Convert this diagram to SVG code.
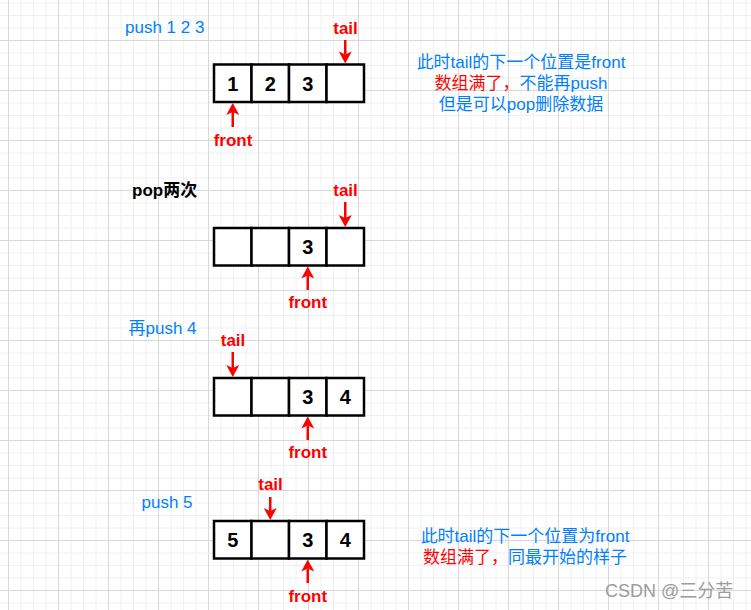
<svg xmlns="http://www.w3.org/2000/svg" width="751" height="610" viewBox="0 0 751 610">
<style>
.cell{fill:#ffffff;stroke:#000000;stroke-width:2.5}
.num{font-family:"Liberation Sans",Arial,sans-serif;font-size:20px;font-weight:bold;fill:#000000;text-anchor:middle}
.ptr{font-family:"Liberation Sans",Arial,sans-serif;font-size:17px;font-weight:bold;fill:#ff0000;text-anchor:middle}
.lbl{font-family:"Liberation Sans","Noto Sans CJK SC",sans-serif;font-size:17px;fill:#007fff}
.blk{font-family:"Liberation Sans","Noto Sans CJK SC",sans-serif;font-size:17px;font-weight:bold;fill:#000000}
.note{font-family:"Liberation Sans","Noto Sans CJK SC",sans-serif;font-size:17px;fill:#007fff;text-anchor:middle}
.red{fill:#ff0000}
.arr{stroke:#ff0000;stroke-width:2.5;fill:none;marker-end:url(#ah)}
.wm{font-family:"Liberation Sans","Noto Sans CJK SC",sans-serif;font-size:18px;fill:#9c9c9c}
</style>
<defs>
<pattern id="grid" x="8" y="40" width="50" height="50" patternUnits="userSpaceOnUse">
<path d="M13 0V50M25.5 0V50M38 0V50M0 13H50M0 25.5H50M0 38H50" stroke="#f0f0f0" stroke-width="1" fill="none"/>
<path d="M0.5 0V50M0 0.5H50" stroke="#d8d8d8" stroke-width="1" fill="none"/>
</pattern>
<marker id="ah" viewBox="-4 -8 14 16" markerWidth="14" markerHeight="16" refX="0" refY="0" orient="auto" markerUnits="userSpaceOnUse">
<path d="M9 0L-3 -6.5L0 0L-3 6.5Z" fill="#ff0000"/>
</marker>
</defs>
<rect width="751" height="610" fill="#ffffff"/>
<rect width="751" height="610" fill="url(#grid)"/>

<g id="label-push123"><text class="lbl" x="125" y="33">push 1 2 3</text></g>
<g id="label-pop"><text class="blk" x="132" y="196">pop两次</text></g>
<g id="label-push4"><text class="lbl" x="128.5" y="334">再push 4</text></g>
<g id="label-push5"><text class="lbl" x="141.5" y="507.5">push 5</text></g>

<g id="row1">
<g id="r1c1"><rect class="cell" x="214" y="64.5" width="37.5" height="37.5"/><text class="num" x="232.75" y="90.75">1</text></g>
<g id="r1c2"><rect class="cell" x="251.5" y="64.5" width="37.5" height="37.5"/><text class="num" x="270.25" y="90.75">2</text></g>
<g id="r1c3"><rect class="cell" x="289" y="64.5" width="37.5" height="37.5"/><text class="num" x="307.75" y="90.75">3</text></g>
<g id="r1c4"><rect class="cell" x="326.5" y="64.5" width="37.5" height="37.5"/></g>
</g>
<g id="row2">
<g id="r2c1"><rect class="cell" x="214" y="228" width="37.5" height="37.5"/></g>
<g id="r2c2"><rect class="cell" x="251.5" y="228" width="37.5" height="37.5"/></g>
<g id="r2c3"><rect class="cell" x="289" y="228" width="37.5" height="37.5"/><text class="num" x="307.75" y="254">3</text></g>
<g id="r2c4"><rect class="cell" x="326.5" y="228" width="37.5" height="37.5"/></g>
</g>
<g id="row3">
<g id="r3c1"><rect class="cell" x="214" y="378" width="37.5" height="37.5"/></g>
<g id="r3c2"><rect class="cell" x="251.5" y="378" width="37.5" height="37.5"/></g>
<g id="r3c3"><rect class="cell" x="289" y="378" width="37.5" height="37.5"/><text class="num" x="307.75" y="404">3</text></g>
<g id="r3c4"><rect class="cell" x="326.5" y="378" width="37.5" height="37.5"/><text class="num" x="345.25" y="404">4</text></g>
</g>
<g id="row4">
<g id="r4c1"><rect class="cell" x="214" y="521" width="37.5" height="37.5"/><text class="num" x="232.75" y="547">5</text></g>
<g id="r4c2"><rect class="cell" x="251.5" y="521" width="37.5" height="37.5"/></g>
<g id="r4c3"><rect class="cell" x="289" y="521" width="37.5" height="37.5"/><text class="num" x="307.75" y="547">3</text></g>
<g id="r4c4"><rect class="cell" x="326.5" y="521" width="37.5" height="37.5"/><text class="num" x="345.25" y="547">4</text></g>
</g>

<g id="pointer-labels">
<g id="tail1"><text class="ptr" x="345.5" y="33.5">tail</text></g>
<g id="front1"><text class="ptr" x="233" y="145.5">front</text></g>
<g id="tail2"><text class="ptr" x="345.5" y="196">tail</text></g>
<g id="front2"><text class="ptr" x="307.75" y="308.3">front</text></g>
<g id="tail3"><text class="ptr" x="233" y="345.7">tail</text></g>
<g id="front3"><text class="ptr" x="307.75" y="458.3">front</text></g>
<g id="tail4"><text class="ptr" x="270.5" y="490">tail</text></g>
<g id="front4"><text class="ptr" x="307.75" y="601.7">front</text></g>
</g>

<g id="connectors">
<path class="arr" d="M345.25 40V54.5"/>
<path class="arr" d="M232.75 127V112"/>
<path class="arr" d="M345.25 202V218"/>
<path class="arr" d="M307.75 290V275.5"/>
<path class="arr" d="M232.75 352V368"/>
<path class="arr" d="M307.75 440V425.5"/>
<path class="arr" d="M270.25 497V511"/>
<path class="arr" d="M307.75 583V568.5"/>
</g>

<g id="note1">
<text class="note" x="521" y="67.5">此时tail的下一个位置是front</text>
<text class="note" x="521" y="88.5"><tspan class="red">数组满了，</tspan>不能再push</text>
<text class="note" x="521" y="109.5">但是可以pop删除数据</text>
</g>
<g id="note2">
<text class="note" x="525" y="541.5">此时tail的下一个位置为front</text>
<text class="note" x="525" y="562.5"><tspan class="red">数组满了，</tspan>同最开始的样子</text>
</g>
<g id="watermark"><text class="wm" x="605" y="597">CSDN @三分苦</text></g>
</svg>
